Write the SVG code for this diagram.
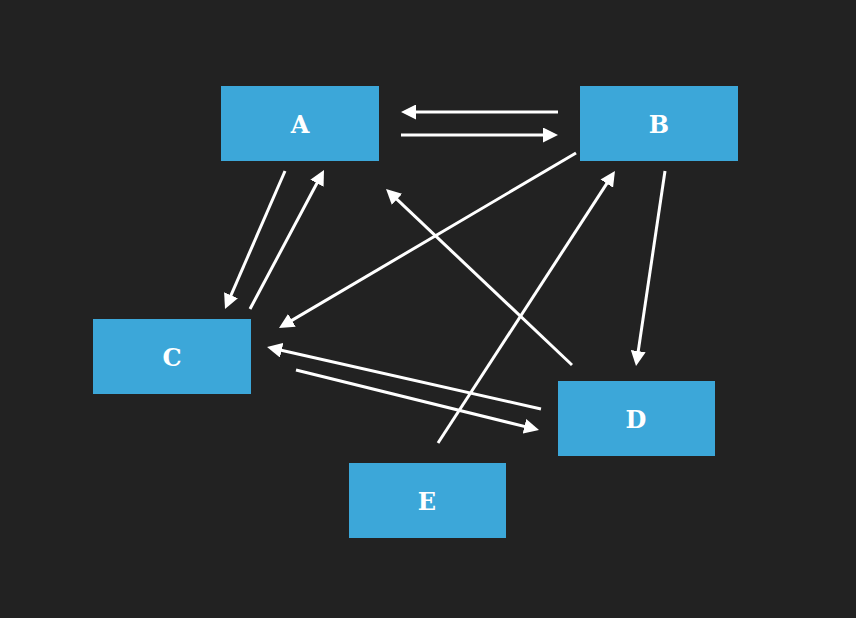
<svg xmlns="http://www.w3.org/2000/svg" width="856" height="618" viewBox="0 0 856 618">
<style>
.node rect{fill:#3ca7d9}
.node text{fill:#ffffff;font-family:"DejaVu Serif","Liberation Serif",serif;font-weight:bold;font-size:24px;text-anchor:middle;dominant-baseline:central}
.edge{stroke:#ffffff;stroke-width:3;fill:none;marker-end:url(#ah)}
</style>
<defs>
<marker id="ah" markerUnits="userSpaceOnUse" markerWidth="15" markerHeight="15" refX="5" refY="7.5" orient="auto">
<path d="M0,0 L15,7.5 L0,15 z" fill="#ffffff"/>
</marker>
</defs>
<rect width="856" height="618" fill="#222222"/>
<g id="connectors">
<line class="edge" x1="558" y1="112" x2="411" y2="112"/>
<line class="edge" x1="401" y1="135" x2="548" y2="135"/>
<line class="edge" x1="285" y1="171" x2="229" y2="299.8"/>
<line class="edge" x1="250" y1="309" x2="319.3" y2="178.8"/>
<line class="edge" x1="576" y1="153" x2="287.6" y2="322.9"/>
<line class="edge" x1="572" y1="365" x2="393.3" y2="195.9"/>
<line class="edge" x1="438" y1="443" x2="609.5" y2="179.4"/>
<line class="edge" x1="665" y1="171" x2="637.5" y2="356.1"/>
<line class="edge" x1="541" y1="409" x2="276.8" y2="349.2"/>
<line class="edge" x1="296" y1="370" x2="529.3" y2="427.6"/>
</g>
<g id="A" class="node"><rect x="221" y="86" width="158" height="75"/><text x="300" y="124">A</text></g>
<g id="B" class="node"><rect x="580" y="86" width="158" height="75"/><text x="659" y="124">B</text></g>
<g id="C" class="node"><rect x="93" y="319" width="158" height="75"/><text x="172" y="357">C</text></g>
<g id="D" class="node"><rect x="558" y="381" width="157" height="75"/><text x="636" y="419">D</text></g>
<g id="E" class="node"><rect x="349" y="463" width="157" height="75"/><text x="427" y="501">E</text></g>
</svg>
